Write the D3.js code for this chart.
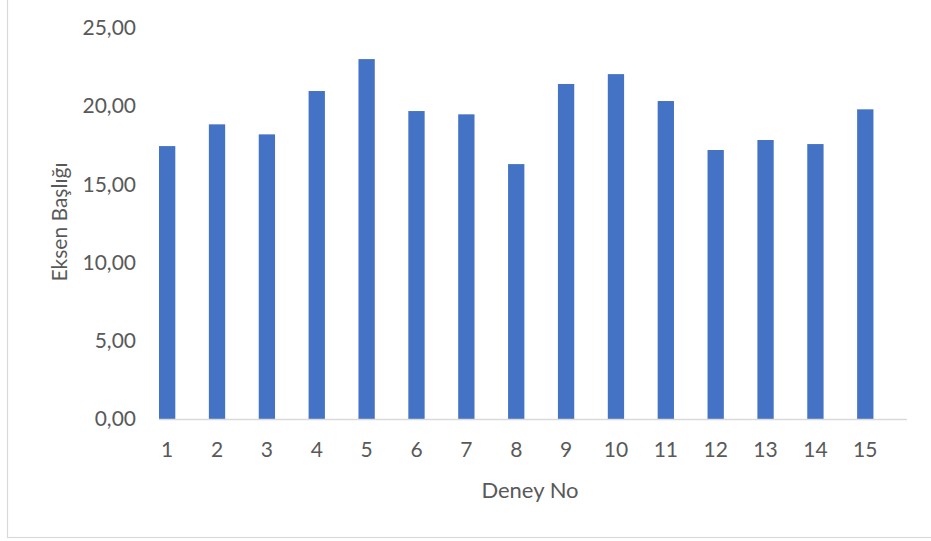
<!DOCTYPE html>
<html>
<head>
<meta charset="utf-8">
<script src="https://cdn.jsdelivr.net/npm/d3@7/dist/d3.min.js"></script>
<style>
  html, body { margin: 0; padding: 0; background: #fff; }
  svg { display: block; }
  text { font-family: Lato, "Noto Sans", sans-serif; fill: #595959; }
</style>
</head>
<body>
<div id="chart"></div>
<script>
// Experiment numbers and measured values
const categories = ["1", "2", "3", "4", "5", "6", "7", "8", "9", "10", "11", "12", "13", "14", "15"];
const values = [17.44, 18.83, 18.19, 20.96, 23.00, 19.68, 19.47, 16.29, 21.41, 22.04, 20.32, 17.19, 17.83, 17.57, 19.79];
const yTicks = [0, 5, 10, 15, 20, 25];
const xTitle = "Deney No";
const yTitle = "Eksen Başlığı";

const W = 931, H = 541;
const plot = { left: 159, right: 907, top: 27.8, bottom: 419 };

const svg = d3.select("#chart").append("svg")
  .attr("width", W).attr("height", H);

// chart area frame
svg.append("rect")
  .attr("x", 7.5).attr("y", -2)
  .attr("width", 940).attr("height", 539.5)
  .attr("fill", "#fff").attr("stroke", "#d9d9d9").attr("stroke-width", 1.2);

const trLocale = d3.formatLocale({ decimal: ",", thousands: ".", grouping: [3], currency: ["", " ₺"] });
const fmt = trLocale.format(".2f");

const x = d3.scaleBand().domain(categories).range([plot.left, plot.right]).paddingInner(0).paddingOuter(0);
const y = d3.scaleLinear().domain([0, 25]).range([plot.bottom, plot.top]);

const barW = x.bandwidth() * 0.327;

// bars
svg.append("g").selectAll("rect")
  .data(values)
  .join("rect")
  .attr("x", (d, i) => x(categories[i]))
  .attr("y", d => y(d))
  .attr("width", barW)
  .attr("height", d => y(0) - y(d))
  .attr("fill", "#4472c4");

// value axis labels
const yAxis = d3.axisLeft(y).tickValues(yTicks).tickFormat(fmt).tickSize(0).tickPadding(0);
const gy = svg.append("g").attr("transform", `translate(${plot.left - 23},0)`).call(yAxis);
gy.select(".domain").remove();
gy.selectAll("text").attr("font-size", 21).attr("font-family", "Lato, 'Noto Sans', sans-serif").attr("fill", "#595959");

// category axis line
svg.append("line")
  .attr("x1", plot.left).attr("x2", plot.right)
  .attr("y1", plot.bottom + 0.5).attr("y2", plot.bottom + 0.5)
  .attr("stroke", "#d9d9d9").attr("stroke-width", 1.4);

// category labels, centred under each bar
const xAxis = d3.axisBottom(x).tickSize(0).tickPadding(0);
const gx = svg.append("g")
  .attr("transform", `translate(${barW / 2 - x.bandwidth() / 2},${plot.bottom + 23})`)
  .call(xAxis);
gx.select(".domain").remove();
gx.selectAll("text").attr("font-size", 21).attr("font-family", "Lato, 'Noto Sans', sans-serif").attr("fill", "#595959");

// axis titles
svg.append("text")
  .attr("x", 530).attr("y", 497.5)
  .attr("text-anchor", "middle")
  .attr("font-size", 22)
  .text(xTitle);

svg.append("text")
  .attr("transform", "translate(67,222) rotate(-90)")
  .attr("text-anchor", "middle")
  .attr("font-size", 21)
  .text(yTitle);
</script>
</body>
</html>
